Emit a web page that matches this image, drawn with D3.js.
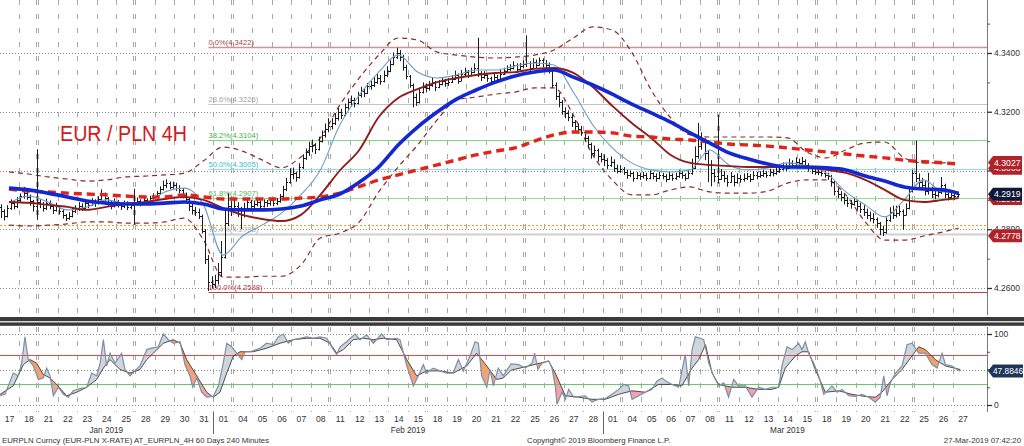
<!DOCTYPE html>
<html><head><meta charset="utf-8">
<script src="https://cdn.jsdelivr.net/npm/d3@7"></script>
<style>
html,body{margin:0;padding:0;background:#fff;overflow:hidden}
svg{display:block}
text{font-family:"Liberation Sans",Arial,sans-serif}
</style></head><body>
<svg id="c" width="1024" height="446"></svg>
<script>
// ---------------- DATA ----------------
const dates = ["2019-01-17","2019-01-18","2019-01-21","2019-01-22","2019-01-23","2019-01-24","2019-01-25","2019-01-28","2019-01-29","2019-01-30","2019-01-31",
"2019-02-01","2019-02-04","2019-02-05","2019-02-06","2019-02-07","2019-02-08","2019-02-11","2019-02-12","2019-02-13","2019-02-14","2019-02-15","2019-02-18","2019-02-19","2019-02-20","2019-02-21","2019-02-22","2019-02-25","2019-02-26","2019-02-27","2019-02-28",
"2019-03-01","2019-03-04","2019-03-05","2019-03-06","2019-03-07","2019-03-08","2019-03-11","2019-03-12","2019-03-13","2019-03-14","2019-03-15","2019-03-18","2019-03-19","2019-03-20","2019-03-21","2019-03-22","2019-03-25","2019-03-26","2019-03-27"];

const firstOpen = 4.2875;
// 4H bars (6 per day, 2 on the last day)
const closes = [
4.2862,4.2845,4.2872,4.2890,4.2878,4.2898,
4.2912,4.2925,4.2910,4.2895,4.2878,4.2892,
4.2885,4.2872,4.2890,4.2880,4.2866,4.2878,
4.2862,4.2848,4.2838,4.2845,4.2862,4.2870,
4.2880,4.2872,4.2890,4.2884,4.2896,4.2888,
4.2902,4.2918,4.2905,4.2890,4.2880,4.2895,
4.2885,4.2878,4.2890,4.2875,4.2882,4.2888,
4.2895,4.2888,4.2900,4.2894,4.2905,4.2912,
4.2922,4.2938,4.2950,4.2956,4.2944,4.2952,
4.2940,4.2934,4.2918,4.2904,4.2880,4.2866,
4.2860,4.2846,4.2795,4.2700,4.2620,4.2615,
4.2628,4.2655,4.2705,4.2822,4.2878,4.2868,
4.2880,4.2868,4.2850,4.2872,4.2892,4.2880,
4.2886,4.2892,4.2880,4.2894,4.2888,4.2898,
4.2890,4.2896,4.2912,4.2936,4.2962,4.2988,
4.2992,4.2978,4.3012,4.3042,4.3062,4.3082,
4.3086,4.3072,4.3102,4.3122,4.3140,4.3152,
4.3162,4.3180,4.3198,4.3190,4.3215,4.3232,
4.3240,4.3230,4.3256,4.3270,4.3265,4.3286,
4.3292,4.3302,4.3316,4.3306,4.3326,4.3340,
4.3362,4.3386,4.3400,4.3388,4.3352,4.3322,
4.3290,4.3250,4.3232,4.3268,4.3285,4.3280,
4.3290,4.3300,4.3285,4.3295,4.3306,4.3298,
4.3302,4.3312,4.3326,4.3306,4.3330,4.3336,
4.3326,4.3336,4.3350,4.3332,4.3320,4.3326,
4.3315,4.3306,4.3320,4.3310,4.3330,4.3340,
4.3346,4.3350,4.3360,4.3345,4.3355,4.3362,
4.3366,4.3350,4.3370,4.3360,4.3375,4.3365,
4.3360,4.3342,4.3290,4.3252,4.3232,4.3202,
4.3196,4.3182,4.3166,4.3150,4.3142,4.3130,
4.3110,4.3090,4.3060,4.3070,4.3050,4.3040,
4.3035,4.3020,4.3030,4.3010,4.3000,4.3005,
4.2995,4.2985,4.2990,4.2975,4.2985,4.2980,
4.2985,4.2975,4.2990,4.2980,4.2975,4.2985,
4.2980,4.2970,4.2985,4.2975,4.2980,4.2990,
4.2985,4.2975,4.2990,4.3010,4.3050,4.3082,
4.3100,4.3060,4.3020,4.2992,4.2980,4.2972,
4.2985,4.2975,4.2962,4.2980,4.2960,4.2975,
4.2970,4.2975,4.2980,4.2972,4.2985,4.2980,
4.2985,4.2990,4.2985,4.2995,4.2990,4.2998,
4.3005,4.3015,4.3010,4.3025,4.3020,4.3030,
4.3025,4.3032,4.3020,4.3010,4.3000,4.2995,
4.2995,4.2990,4.2985,4.2980,4.2960,4.2930,
4.2920,4.2910,4.2900,4.2890,4.2885,4.2895,
4.2880,4.2870,4.2860,4.2850,4.2840,4.2835,
4.2820,4.2800,4.2790,4.2830,4.2860,4.2850,
4.2855,4.2862,4.2850,4.2872,4.2930,4.2990,
4.2975,4.2960,4.2950,4.2930,4.2936,4.2920,
4.2915,4.2926,4.2950,4.2920,4.2910,4.2915,
4.2912,4.2919];
const highs = [
4.2885,4.2868,4.2882,4.2902,4.2896,4.2910,
4.2922,4.2944,4.2932,4.2918,4.2900,4.3072,
4.2902,4.2893,4.2904,4.2898,4.2886,4.2890,
4.2882,4.2868,4.2852,4.2858,4.2875,4.2882,
4.2892,4.2888,4.2900,4.2898,4.2906,4.2902,
4.2912,4.2936,4.2925,4.2910,4.2896,4.2905,
4.2900,4.2892,4.2898,4.2895,4.2892,4.2938,
4.2908,4.2902,4.2910,4.2905,4.2914,4.2922,
4.2930,4.2946,4.2966,4.2970,4.2962,4.2962,
4.2958,4.2950,4.2940,4.2925,4.2910,4.2888,
4.2876,4.2870,4.2850,4.2800,4.2712,4.2640,
4.2645,4.2685,4.2760,4.2870,4.2922,4.2896,
4.2902,4.2892,4.2876,4.2890,4.2906,4.2900,
4.2898,4.2905,4.2898,4.2902,4.2900,4.2908,
4.2902,4.2906,4.2920,4.2948,4.2975,4.3008,
4.3010,4.2996,4.3025,4.3055,4.3075,4.3098,
4.3105,4.3092,4.3115,4.3136,4.3160,4.3178,
4.3178,4.3195,4.3212,4.3210,4.3228,4.3245,
4.3255,4.3248,4.3268,4.3285,4.3280,4.3298,
4.3305,4.3318,4.3330,4.3325,4.3340,4.3355,
4.3375,4.3402,4.3418,4.3410,4.3394,4.3360,
4.3325,4.3296,4.3262,4.3282,4.3300,4.3296,
4.3305,4.3315,4.3305,4.3308,4.3318,4.3312,
4.3315,4.3325,4.3340,4.3330,4.3342,4.3350,
4.3342,4.3350,4.3365,4.3452,4.3338,4.3338,
4.3332,4.3320,4.3330,4.3325,4.3342,4.3350,
4.3358,4.3362,4.3372,4.3365,4.3366,4.3375,
4.3460,4.3372,4.3382,4.3378,4.3385,4.3382,
4.3376,4.3368,4.3345,4.3300,4.3265,4.3240,
4.3215,4.3205,4.3192,4.3172,4.3160,4.3152,
4.3135,4.3118,4.3095,4.3085,4.3075,4.3060,
4.3055,4.3042,4.3048,4.3038,4.3020,4.3018,
4.3012,4.3002,4.3000,4.2995,4.2995,4.2992,
4.2995,4.2992,4.3000,4.2994,4.2990,4.2996,
4.2992,4.2988,4.2995,4.2990,4.2992,4.3002,
4.2998,4.2990,4.3002,4.3040,4.3082,4.3162,
4.3130,4.3110,4.3070,4.3035,4.3005,4.3190,
4.3005,4.2998,4.2985,4.2995,4.2985,4.2990,
4.2985,4.2990,4.2992,4.2988,4.2998,4.2995,
4.2998,4.3002,4.2998,4.3006,4.3004,4.3010,
4.3018,4.3028,4.3024,4.3040,4.3035,4.3045,
4.3040,4.3046,4.3038,4.3025,4.3015,4.3010,
4.3005,4.3002,4.2998,4.2992,4.2985,4.2965,
4.2940,4.2930,4.2920,4.2910,4.2900,4.2908,
4.2900,4.2890,4.2882,4.2870,4.2860,4.2855,
4.2840,4.2825,4.2812,4.2840,4.2875,4.2880,
4.2880,4.2880,4.2868,4.2888,4.2942,4.3002,
4.3102,4.2990,4.2975,4.2965,4.2992,4.2945,
4.2930,4.2940,4.2978,4.2955,4.2925,4.2928,
4.2926,4.2928];
const lows = [
4.2838,4.2830,4.2840,4.2866,4.2868,4.2872,
4.2892,4.2904,4.2900,4.2880,4.2860,4.2832,
4.2872,4.2860,4.2866,4.2868,4.2852,4.2860,
4.2850,4.2836,4.2828,4.2832,4.2840,4.2855,
4.2862,4.2862,4.2866,4.2872,4.2880,4.2876,
4.2884,4.2898,4.2895,4.2876,4.2868,4.2874,
4.2874,4.2866,4.2872,4.2865,4.2868,4.2815,
4.2880,4.2878,4.2884,4.2885,4.2890,4.2898,
4.2906,4.2918,4.2932,4.2940,4.2936,4.2938,
4.2930,4.2922,4.2905,4.2890,4.2862,4.2850,
4.2845,4.2835,4.2786,4.2682,4.2590,4.2598,
4.2600,4.2612,4.2640,4.2700,4.2810,4.2845,
4.2862,4.2842,4.2800,4.2840,4.2866,4.2864,
4.2868,4.2878,4.2866,4.2874,4.2876,4.2880,
4.2878,4.2882,4.2890,4.2905,4.2930,4.2955,
4.2970,4.2962,4.2972,4.3005,4.3036,4.3050,
4.3062,4.3056,4.3068,4.3095,4.3112,4.3130,
4.3140,4.3155,4.3170,4.3175,4.3185,4.3205,
4.3218,4.3215,4.3225,4.3248,4.3250,4.3260,
4.3275,4.3284,4.3295,4.3292,4.3300,4.3318,
4.3335,4.3358,4.3380,4.3372,4.3340,4.3310,
4.3282,4.3215,4.3220,4.3228,4.3262,4.3266,
4.3272,4.3285,4.3270,4.3280,4.3290,4.3285,
4.3288,4.3298,4.3308,4.3295,4.3304,4.3322,
4.3315,4.3320,4.3332,4.3318,4.3305,4.3312,
4.3302,4.3295,4.3300,4.3298,4.3306,4.3325,
4.3332,4.3338,4.3344,4.3335,4.3340,4.3348,
4.3352,4.3338,4.3345,4.3348,4.3356,4.3352,
4.3348,4.3330,4.3282,4.3240,4.3215,4.3190,
4.3178,4.3168,4.3148,4.3135,4.3125,4.3118,
4.3098,4.3075,4.3040,4.3048,4.3030,4.3028,
4.3015,4.3005,4.3012,4.2995,4.2990,4.2992,
4.2985,4.2972,4.2978,4.2962,4.2970,4.2968,
4.2972,4.2965,4.2970,4.2970,4.2962,4.2970,
4.2970,4.2960,4.2968,4.2965,4.2968,4.2975,
4.2972,4.2965,4.2972,4.2985,4.3005,4.3040,
4.3070,4.3035,4.2960,4.2946,4.2960,4.2955,
4.2968,4.2960,4.2945,4.2958,4.2946,4.2955,
4.2958,4.2962,4.2968,4.2960,4.2968,4.2970,
4.2975,4.2978,4.2975,4.2980,4.2980,4.2985,
4.2992,4.3000,4.2998,4.3005,4.3008,4.3015,
4.3012,4.3018,4.3008,4.2996,4.2988,4.2985,
4.2984,4.2980,4.2975,4.2968,4.2945,4.2915,
4.2905,4.2895,4.2885,4.2876,4.2870,4.2880,
4.2866,4.2855,4.2845,4.2835,4.2826,4.2820,
4.2805,4.2780,4.2777,4.2785,4.2825,4.2835,
4.2840,4.2845,4.2798,4.2848,4.2868,4.2925,
4.2960,4.2942,4.2935,4.2915,4.2918,4.2906,
4.2902,4.2908,4.2920,4.2905,4.2898,4.2902,
4.2900,4.2908];

// indicators, one value per trading day
const fastMA = [4.2889,4.2913,4.2893,4.2866,4.2876,4.2900,4.2889,4.2889,4.2927,4.2940,4.2883,4.2712,4.2777,4.2814,4.2855,4.2917,4.3002,4.3155,4.3257,4.3335,4.3393,4.3335,4.3315,4.3325,4.3342,4.3342,4.3356,4.3366,4.3359,4.3267,4.3155,4.3077,4.3026,4.3002,4.2995,4.3002,4.3070,4.3019,4.3002,4.3009,4.3026,4.3015,4.2992,4.2927,4.2883,4.2842,4.2900,4.2968,4.2927,4.2927];
const darkRedMA = [4.2893,4.2890,4.2883,4.2876,4.2866,4.2876,4.2886,4.2893,4.2903,4.2910,4.2900,4.2872,4.2849,4.2835,4.2828,4.2849,4.2917,4.3000,4.3070,4.3182,4.3247,4.3277,4.3301,4.3315,4.3325,4.3332,4.3335,4.3346,4.3349,4.3332,4.3284,4.3220,4.3162,4.3111,4.3053,4.3026,4.3019,4.3015,4.3012,4.3012,4.3012,4.3009,4.3002,4.2992,4.2968,4.2934,4.2900,4.2893,4.2900,4.2906];
const blueMA = [4.2940,4.2934,4.2923,4.2910,4.2896,4.2889,4.2886,4.2886,4.2889,4.2893,4.2886,4.2869,4.2866,4.2866,4.2869,4.2879,4.2900,4.2920,4.2960,4.3012,4.3087,4.3148,4.3199,4.3243,4.3274,4.3301,4.3322,4.3335,4.3342,4.3318,4.3291,4.3260,4.3226,4.3196,4.3165,4.3128,4.3094,4.3060,4.3039,4.3022,4.3012,4.3012,4.3009,4.3002,4.2981,4.2964,4.2944,4.2937,4.2934,4.2922];
const redMA = [4.2937,4.2930,4.2927,4.2923,4.2920,4.2917,4.2913,4.2910,4.2910,4.2917,4.2910,4.2903,4.2903,4.2903,4.2903,4.2906,4.2910,4.2923,4.2945,4.2968,4.2985,4.3002,4.3019,4.3036,4.3053,4.3066,4.3077,4.3100,4.3121,4.3131,4.3131,4.3128,4.3117,4.3114,4.3107,4.3104,4.3097,4.3090,4.3087,4.3083,4.3077,4.3070,4.3063,4.3056,4.3049,4.3043,4.3035,4.3030,4.3026,4.3022];
const bbUpper = [4.2995,4.2988,4.2978,4.2971,4.2964,4.2968,4.2978,4.2981,4.2985,4.2991,4.3033,4.3080,4.3066,4.3036,4.3009,4.3046,4.3111,4.3223,4.3315,4.3393,4.3451,4.3444,4.3403,4.3393,4.3386,4.3383,4.3386,4.3393,4.3410,4.3451,4.3489,4.3478,4.3403,4.3274,4.3179,4.3121,4.3114,4.3114,4.3114,4.3114,4.3111,4.3063,4.3043,4.3070,4.3094,4.3097,4.3043,4.3026,4.3026,4.3029];
const bbLower = [4.2814,4.2811,4.2814,4.2818,4.2825,4.2825,4.2821,4.2821,4.2825,4.2838,4.2763,4.2637,4.2637,4.2640,4.2640,4.2678,4.2770,4.2787,4.2825,4.2927,4.3012,4.3087,4.3172,4.3240,4.3250,4.3260,4.3267,4.3281,4.3281,4.3189,4.3053,4.2968,4.2917,4.2917,4.2934,4.2944,4.2927,4.2923,4.2923,4.2930,4.2957,4.2968,4.2968,4.2917,4.2825,4.2763,4.2763,4.2777,4.2791,4.2804];

// Fibonacci retracement levels
const fibLabels = ["0.0%","23.6%","38.2%","50.0%","61.8%","76.4%","100.0%"];
const fibValues = [4.3422,4.3225,4.3104,4.3005,4.2907,4.2785,4.2588];
const pivotLevel = 4.2814;

// axis ticks
const priceTicks = [4.26,4.28,4.30,4.32,4.34];
const priceTickLabels = [4.26,4.28,4.32,4.34];
const priceMinorTicks = [4.27,4.29,4.31,4.33,4.35];
const oscTicks = [0,50,100];
const oscTickLabels = [0,100];
const oscMinorTicks = [25,75];

// last-value tags (partly hidden ones first)
const tagValues = [4.3008,4.2905,4.3027,4.2919,4.2778];
const tagKinds = ["red","red","red","navy","red"];
const oscLast = 47.8846;

// oscillator: [trading-day position, value]
const oscK = [[0.04,13],[0.29,15],[0.72,45],[0.98,41],[1.15,59],[1.32,96],[1.49,64],[1.75,55],[2.01,36],[2.26,38],[2.44,52],[2.61,41],[2.78,13],[3.03,25],[3.29,15],[3.55,11],[3.80,20],[4.15,23],[4.49,25],[4.75,45],[5.01,41],[5.18,59],[5.35,92],[5.52,55],[5.69,73],[5.95,59],[6.29,73],[6.46,50],[6.72,41],[6.97,48],[7.23,55],[7.58,78],[7.83,80],[8.17,82],[8.43,100],[8.69,92],[8.94,87],[9.29,89],[9.54,57],[9.80,41],[9.94,25],[10.15,38],[10.40,18],[10.66,11],[10.99,12],[11.26,27],[11.51,59],[11.69,87],[11.94,82],[12.20,73],[12.46,64],[12.63,75],[12.89,75],[13.40,80],[13.74,87],[14.08,85],[14.34,96],[14.60,100],[14.85,87],[15.11,92],[15.45,94],[15.80,96],[16.14,94],[16.48,96],[16.83,94],[17.17,78],[17.34,71],[17.51,82],[17.85,89],[18.28,100],[18.54,92],[18.88,99],[19.22,87],[19.65,100],[19.91,92],[20.42,94],[20.59,92],[20.94,55],[21.28,27],[21.53,41],[21.79,57],[21.96,45],[22.30,52],[22.65,48],[22.99,45],[23.33,45],[23.59,64],[23.85,48],[24.19,69],[24.45,89],[24.62,87],[24.79,41],[25.05,25],[25.22,50],[25.39,27],[25.64,52],[25.90,41],[26.30,58],[26.69,57],[27.03,52],[27.38,59],[27.51,73],[27.68,50],[27.89,59],[28.23,62],[28.40,52],[28.57,27],[28.66,1],[28.92,18],[29.09,8],[29.26,22],[29.52,11],[29.77,12],[30.11,13],[30.46,4],[30.80,8],[31.14,9],[31.49,15],[31.83,22],[32.09,29],[32.34,27],[32.52,8],[32.86,13],[33.20,18],[33.54,22],[33.80,34],[34.06,38],[34.23,34],[34.57,29],[34.91,25],[35.25,71],[35.43,27],[35.60,78],[35.77,96],[36.02,94],[36.20,92],[36.46,59],[36.71,41],[36.97,27],[37.23,31],[37.48,11],[37.74,36],[37.99,27],[38.34,27],[38.68,11],[39.02,25],[39.37,22],[39.71,25],[40.05,25],[40.22,55],[40.48,82],[40.74,78],[41.08,87],[41.25,78],[41.42,89],[41.59,73],[41.85,59],[42.11,41],[42.37,15],[42.62,22],[42.79,27],[43.05,18],[43.31,22],[43.65,13],[43.99,12],[44.33,15],[44.68,11],[45.02,4],[45.27,11],[45.45,41],[45.62,13],[45.79,31],[46.05,45],[46.39,55],[46.65,85],[46.90,87],[47.25,73],[47.59,73],[47.93,57],[48.19,52],[48.45,73],[48.62,57],[48.96,55],[49.22,50],[49.38,47.88]];
const oscD = [[0.04,15],[0.72,27],[1.24,57],[1.58,64],[1.92,59],[2.26,43],[2.61,38],[2.95,29],[3.46,13],[3.98,18],[4.49,25],[5.01,36],[5.35,52],[5.69,64],[6.20,50],[6.72,45],[7.23,50],[7.58,64],[7.92,73],[8.43,87],[8.94,92],[9.29,87],[9.63,64],[10.15,41],[10.66,18],[10.99,11],[11.34,18],[11.69,45],[12.03,69],[12.37,75],[13.05,75],[13.74,80],[14.43,87],[15.11,92],[15.80,94],[16.48,94],[16.99,87],[17.34,73],[17.68,78],[18.19,92],[18.71,94],[19.22,92],[19.74,94],[20.42,92],[20.94,64],[21.45,41],[21.96,48],[22.65,48],[23.33,45],[24.02,55],[24.53,73],[25.05,55],[25.56,36],[25.90,38],[26.30,49],[27.21,55],[28.23,62],[28.57,45],[29.09,13],[29.77,11],[30.46,8],[31.14,8],[31.83,15],[32.52,20],[33.20,18],[33.89,29],[34.57,29],[35.08,27],[35.60,52],[35.94,64],[36.29,85],[36.63,45],[36.97,29],[37.65,25],[38.34,25],[39.02,22],[39.71,22],[40.05,25],[40.39,52],[40.91,69],[41.25,75],[41.59,75],[41.93,50],[42.45,18],[43.14,20],[43.82,15],[44.50,12],[45.02,11],[45.36,18],[45.88,36],[46.39,50],[46.90,69],[47.25,82],[47.59,78],[48.10,64],[48.62,55],[49.38,50]];
const oscUpper = 70, oscLower = 30;

const titleText = "EUR / PLN 4H";
const footerLeft = "EURPLN Curncy (EUR-PLN X-RATE) AT_EURPLN_4H 60 Days 240 Minutes";
const footerMid = "Copyright\u00A9 2019 Bloomberg Finance L.P.";
const footerRight = "27-Mar-2019 07:42:20";

// ---------------- DRAWING ----------------
const W = 1024, H = 446;
const plotRight = 987;
const mainTop = 0, mainBottom = 315, oscTop = 327, oscBottom = 412;
const parsed = dates.map(s => new Date(s + "T00:00:00Z"));
const nDays = dates.length;

const x = d3.scaleLinear().domain([0, nDays]).range([-0.73, 972.27]);
const y = d3.scaleLinear().domain([4.26, 4.34]).range([288, 53]);
const yO = d3.scaleLinear().domain([0, 100]).range([405, 334]);
const px = v => Math.round(v) + 0.5;

const svg = d3.select("#c");
svg.append("rect").attr("width", W).attr("height", H).attr("fill", "#fff");
const defs = svg.append("defs");
defs.append("clipPath").attr("id", "clipMain").append("rect")
  .attr("x", 0).attr("y", mainTop).attr("width", plotRight).attr("height", mainBottom - mainTop);
defs.append("clipPath").attr("id", "clipOsc").append("rect")
  .attr("x", 0).attr("y", oscTop).attr("width", plotRight).attr("height", oscBottom - oscTop);

const vpos = [];
for (let d = 1; d < nDays; d++) {
  const xv = Math.round(x(d));
  if (parsed[d].getUTCDay() === 1) { vpos.push(xv - 1.5, xv + 0.5); }
  else vpos.push(xv + 0.5);
}
function vgrid(g, y0, y1) {
  g.selectAll(null).data(vpos).join("line")
    .attr("x1", d => d).attr("x2", d => d).attr("y1", y0).attr("y2", y1)
    .attr("stroke", "#a8a8a8").attr("stroke-width", 1).attr("stroke-dasharray", "5,9");
}

// ---------- main panel ----------
const gMain = svg.append("g").attr("clip-path", "url(#clipMain)");
vgrid(gMain, mainTop, mainBottom);
gMain.selectAll(null).data(priceTicks).join("line")
  .attr("x1", 0).attr("x2", plotRight).attr("y1", d => px(y(d))).attr("y2", d => px(y(d)))
  .attr("stroke", "#8c8c8c").attr("stroke-dasharray", "1,2");

gMain.append("line").attr("x1", 0).attr("x2", plotRight)
  .attr("y1", px(y(pivotLevel))).attr("y2", px(y(pivotLevel)))
  .attr("stroke", "#f0a020").attr("stroke-width", 1.2).attr("stroke-dasharray", "2,2");

const lowIdx = d3.minIndex(lows);
const fibX = x((lowIdx + 0.5) / 6);
const fibLineColors = ["#c99595", "#c4c4c4", "#86d486", "#8fdde6", "#96da96", "#d0d0d0", "#b84545"];
const fibTextColors = ["#a84a4a", "#a6a6a6", "#3fae3f", "#3cb7c6", "#55b455", "#b0b0b0", "#b03a3a"];
const fibW = [1.6, 1.2, 1.2, 1.2, 1.2, 2, 1.2];
fibValues.forEach((v, i) => {
  gMain.append("line").attr("x1", fibX).attr("x2", plotRight)
    .attr("y1", px(y(v))).attr("y2", px(y(v)))
    .attr("stroke", fibLineColors[i]).attr("stroke-width", fibW[i]);
  gMain.append("text").attr("x", fibX).attr("y", y(v) - 2)
    .attr("font-size", 7.6).attr("fill", fibTextColors[i])
    .text(`${fibLabels[i]}(${v.toFixed(4)})`);
});

const indT = d3.range(nDays).map(d => d < nDays - 1 ? d + 0.5 : 49.3);
const mk = arr => arr.map((v, i) => [indT[i], v]);
const line = d3.line().x(d => x(d[0])).y(d => y(d[1])).curve(d3.curveMonotoneX);

[bbUpper, bbLower].forEach(arr => {
  gMain.append("path").attr("d", line(mk(arr))).attr("fill", "none")
    .attr("stroke", "#8a2c2c").attr("stroke-width", 1.2).attr("stroke-dasharray", "5,4");
});

let pth = "";
closes.forEach((c, i) => {
  const o = i ? closes[i - 1] : firstOpen;
  const xc = px(x((i + 0.5) / 6));
  const yh = y(highs[i]), yl = y(lows[i]);
  pth += `M${xc},${yh.toFixed(1)}V${yl.toFixed(1)}`;
  pth += `M${xc - 1.5},${px(y(o))}H${xc}`;
  pth += `M${xc},${px(y(c))}H${xc + 1.5}`;
});
gMain.append("path").attr("d", pth).attr("fill", "none").attr("stroke", "#1c1c1c").attr("stroke-width", 1);

gMain.append("path").attr("d", line(mk(fastMA))).attr("fill", "none")
  .attr("stroke", "#6e9ec6").attr("stroke-width", 1.1);
gMain.append("path").attr("d", line(mk(darkRedMA))).attr("fill", "none")
  .attr("stroke", "#8e1c1c").attr("stroke-width", 1.9);
gMain.append("path").attr("d", line(mk(redMA))).attr("fill", "none")
  .attr("stroke", "#e2231a").attr("stroke-width", 3.4).attr("stroke-dasharray", "8,5");
gMain.append("path").attr("d", line(mk(blueMA))).attr("fill", "none")
  .attr("stroke", "#1428d2").attr("stroke-width", 3.6);

svg.append("text").attr("x", 60).attr("y", 141).attr("font-size", 22)
  .attr("fill", "#d21a1a").attr("textLength", 127).attr("lengthAdjust", "spacingAndGlyphs")
  .text(titleText);

// right price axis
svg.append("line").attr("x1", plotRight + 0.5).attr("x2", plotRight + 0.5).attr("y1", mainTop).attr("y2", mainBottom)
  .attr("stroke", "#7a7a7a");
const axR = svg.append("g").attr("transform", `translate(${plotRight},0)`)
  .call(d3.axisRight(y).tickValues(priceTicks)
    .tickFormat(d => priceTickLabels.includes(d) ? d3.format(".4f")(d) : "").tickSize(5).tickPadding(2));
axR.select(".domain").remove();
axR.selectAll("line").attr("stroke", "#333").attr("stroke-width", 1.3);
axR.selectAll("text").attr("font-size", 8.5).attr("fill", "#333").attr("font-family", "Liberation Sans, Arial, sans-serif");
const axRm = svg.append("g").attr("transform", `translate(${plotRight},0)`)
  .call(d3.axisRight(y).tickValues(priceMinorTicks).tickFormat("").tickSize(3));
axRm.select(".domain").remove();
axRm.selectAll("line").attr("stroke", "#555");

function tag(yc, txt, fill) {
  const g = svg.append("g");
  g.append("path").attr("d", `M${plotRight + 1},${yc} L${plotRight + 6},${yc - 6.5} H1022 V${yc + 6.5} H${plotRight + 6} Z`)
    .attr("fill", fill);
  g.append("text").attr("x", plotRight + 7).attr("y", yc + 3.2).attr("font-size", 8.7)
    .attr("fill", "#fff").text(txt);
}
tagValues.forEach((v, i) => tag(y(v), v.toFixed(4), tagKinds[i] === "navy" ? "#0f1838" : "#b0232b"));

// separator
svg.append("rect").attr("x", 0).attr("y", 317).attr("width", W).attr("height", 4.2).attr("fill", "#3a3a3a");
svg.append("rect").attr("x", 0).attr("y", 322.4).attr("width", W).attr("height", 3.4).attr("fill", "#3a3a3a");

// ---------- oscillator panel ----------
const gOsc = svg.append("g").attr("clip-path", "url(#clipOsc)");
vgrid(gOsc, oscTop, oscBottom);
gOsc.selectAll(null).data(oscTicks).join("line")
  .attr("x1", 0).attr("x2", plotRight).attr("y1", d => px(yO(d))).attr("y2", d => px(yO(d)))
  .attr("stroke", "#8c8c8c").attr("stroke-dasharray", "1,2");

const grad = defs.append("linearGradient").attr("id", "oFill").attr("gradientUnits", "userSpaceOnUse")
  .attr("x1", 0).attr("x2", 0).attr("y1", yO(100)).attr("y2", yO(0));
grad.append("stop").attr("offset", "0%").attr("stop-color", "#f29c5c");
grad.append("stop").attr("offset", "50%").attr("stop-color", "#f3a06c");
grad.append("stop").attr("offset", "78%").attr("stop-color", "#f1a2ab");
grad.append("stop").attr("offset", "100%").attr("stop-color", "#f1a2ab");

const valAt = (arr, t) => {
  const i = d3.bisector(d => d[0]).left(arr, t);
  if (i <= 0) return arr[0][1];
  if (i >= arr.length) return arr[arr.length - 1][1];
  const a = arr[i - 1], b = arr[i];
  return a[1] + (b[1] - a[1]) * (t - a[0]) / (b[0] - a[0]);
};
const tAll = Array.from(new Set([...oscK.map(d => d[0]), ...oscD.map(d => d[0])])).sort((a, b) => a - b);
const tMin = Math.max(oscK[0][0], oscD[0][0]), tMax = Math.min(oscK[oscK.length - 1][0], oscD[oscD.length - 1][0]);
const base = tAll.filter(t => t >= tMin && t <= tMax).map(t => ({ t, k: valAt(oscK, t), d: valAt(oscD, t) }));
const seq = [];
for (let i = 0; i < base.length; i++) {
  seq.push(base[i]);
  if (i + 1 < base.length) {
    const a = base[i], b = base[i + 1];
    const da = a.k - a.d, db = b.k - b.d;
    if (da * db < 0) {
      const f = da / (da - db);
      const t = a.t + f * (b.t - a.t);
      const v = a.k + f * (b.k - a.k);
      seq.push({ t, k: v, d: v });
    }
  }
}
const fillArea = d3.area().x(p => x(p.t)).y0(p => yO(p.d)).y1(p => yO(p.k));
gOsc.append("path").attr("d", fillArea.defined(p => p.k >= p.d)(seq)).attr("fill", "#cfd5dd");
gOsc.append("path").attr("d", fillArea.defined(p => p.k <= p.d)(seq)).attr("fill", "url(#oFill)");

gOsc.append("line").attr("x1", 0).attr("x2", plotRight).attr("y1", px(yO(oscUpper))).attr("y2", px(yO(oscUpper)))
  .attr("stroke", "#e04848").attr("stroke-width", 1);
gOsc.append("line").attr("x1", 0).attr("x2", plotRight).attr("y1", px(yO(oscLower))).attr("y2", px(yO(oscLower)))
  .attr("stroke", "#6cc46c").attr("stroke-width", 1);

const lineO = d3.line().x(d => x(d[0])).y(d => yO(d[1]));
gOsc.append("path").attr("d", lineO(oscD)).attr("fill", "none").attr("stroke", "#3a3a3a").attr("stroke-width", 0.9);
gOsc.append("path").attr("d", lineO(oscK)).attr("fill", "none").attr("stroke", "#7d8fa2").attr("stroke-width", 1.2);

svg.append("line").attr("x1", plotRight + 0.5).attr("x2", plotRight + 0.5).attr("y1", oscTop).attr("y2", oscBottom)
  .attr("stroke", "#7a7a7a");
const axO = svg.append("g").attr("transform", `translate(${plotRight},0)`)
  .call(d3.axisRight(yO).tickValues(oscTicks)
    .tickFormat(d => oscTickLabels.includes(d) ? d3.format("d")(d) : "").tickSize(5).tickPadding(2));
axO.select(".domain").remove();
axO.selectAll("line").attr("stroke", "#333").attr("stroke-width", 1.3);
axO.selectAll("text").attr("font-size", 8.5).attr("fill", "#333").attr("font-family", "Liberation Sans, Arial, sans-serif");
const axOm = svg.append("g").attr("transform", `translate(${plotRight},0)`)
  .call(d3.axisRight(yO).tickValues(oscMinorTicks).tickFormat("").tickSize(3));
axOm.select(".domain").remove();
axOm.selectAll("line").attr("stroke", "#555");
{
  const yc = yO(oscLast);
  svg.append("path").attr("d", `M${plotRight + 1},${yc} L${plotRight + 6},${yc - 6.5} H1023 V${yc + 6.5} H${plotRight + 6} Z`)
    .attr("fill", "#1d3658");
  svg.append("text").attr("x", plotRight + 6).attr("y", yc + 3.2).attr("font-size", 8.3)
    .attr("fill", "#fff").text(oscLast.toFixed(4));
}

// ---------- x axis ----------
const fmtDay = d3.utcFormat("%d");
const axB = svg.append("g").attr("transform", "translate(0,415.5)")
  .call(d3.axisBottom(x).tickValues(d3.range(nDays).map(d => d + 0.5))
    .tickFormat(t => fmtDay(parsed[Math.floor(t)])).tickSize(0).tickPadding(0));
axB.select(".domain").remove();
axB.selectAll("text").attr("font-size", 8.6).attr("fill", "#333").attr("font-family", "Liberation Sans, Arial, sans-serif");

const monthStarts = [0];
for (let d = 1; d < nDays; d++) if (parsed[d].getUTCMonth() !== parsed[d - 1].getUTCMonth()) monthStarts.push(d);
const fmtMonth = d3.utcFormat("%b %Y");
monthStarts.forEach((s, i) => {
  const e = i + 1 < monthStarts.length ? monthStarts[i + 1] : nDays;
  svg.append("text").attr("x", x((s + e) / 2)).attr("y", 432.5).attr("text-anchor", "middle")
    .attr("font-size", 8.2).attr("fill", "#333").text(fmtMonth(parsed[s]));
  if (s > 0) {
    svg.append("line").attr("x1", px(x(s))).attr("x2", px(x(s))).attr("y1", 412).attr("y2", 434)
      .attr("stroke", "#666").attr("stroke-width", 1);
  }
});

svg.append("text").attr("x", 2).attr("y", 443).attr("font-size", 7.8).attr("fill", "#333").text(footerLeft);
svg.append("text").attr("x", 527).attr("y", 443).attr("font-size", 7.8).attr("fill", "#333").text(footerMid);
svg.append("text").attr("x", 1021).attr("y", 443).attr("font-size", 7.8).attr("fill", "#333")
  .attr("text-anchor", "end").text(footerRight);
</script>
</body></html>
